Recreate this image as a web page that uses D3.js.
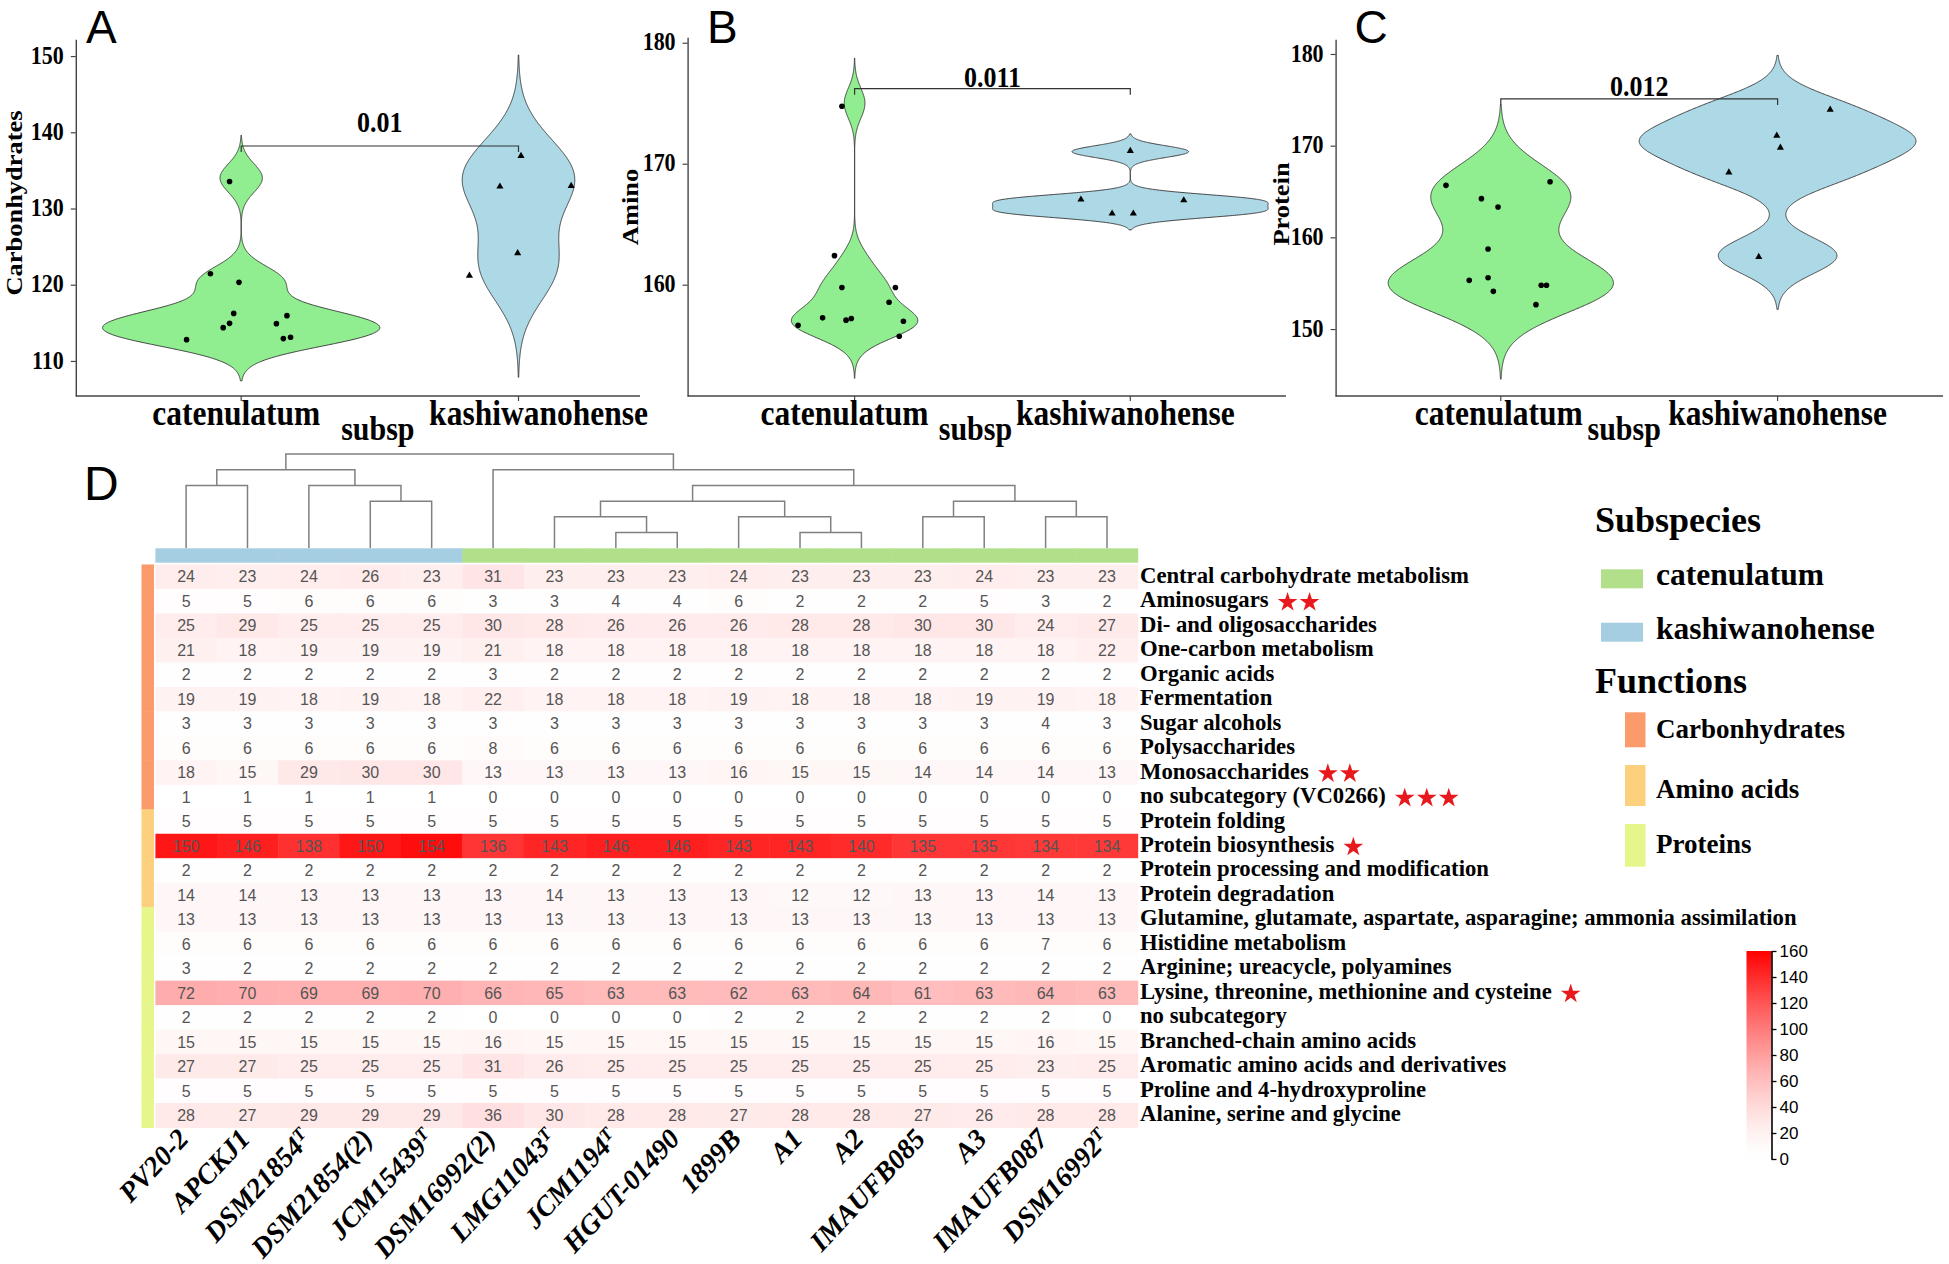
<!DOCTYPE html>
<html>
<head>
<meta charset="utf-8">
<script src="https://cdn.jsdelivr.net/npm/d3@7"></script>
<style>
  body { margin: 0; background: #fff; }
  svg { display: block; }
</style>
</head>
<body>
<script>
// ---------------- data ----------------
const groups = ["catenulatum", "kashiwanohense"];

// per-strain totals shown as violins (A: carbohydrates, B: amino, C: protein)
const carbCat = [134, 121, 120, 116, 116, 115, 115, 114, 113, 113, 113];
const carbCatJx = [-0.042, -0.111, -0.008, -0.027, 0.165, -0.042, 0.127, -0.065, -0.197, 0.152, 0.178];
const carbCatJy = [-0.46, 0.44, 0.31, 0.24, -0.06, -0.07, -0.11, 0.37, -0.21, -0.07, 0.10];
const carbKas = [137, 133, 133, 124, 121];
const carbKasJx = [0.009, -0.067, 0.19, -0.003, -0.177];
const carbKasJy = [-0.1, -0.12, -0.03, 0.15, 0.2];

const aminoCat = [175, 162, 160, 160, 159, 157, 157, 157, 157, 157, 156];
const aminoCatJx = [-0.046, -0.073, -0.046, 0.148, 0.125, -0.116, -0.031, -0.012, -0.205, 0.177, 0.162];
const aminoCatJy = [-0.25, 0.4, -0.23, -0.23, -0.45, 0.26, 0.07, 0.2, -0.35, -0.02, -0.26];
const aminoKas = [171, 167, 167, 166, 166];
const aminoKasJx = [0, -0.179, 0.194, -0.066, 0.011];
const aminoKasJy = [0.06, 0.04, -0.02, -0.12, -0.12];

const protCat = [166, 166, 164, 163, 159, 156, 155, 155, 155, 154, 153];
const protCatJx = [-0.198, 0.178, -0.07, -0.01, -0.046, -0.046, -0.114, 0.146, 0.165, -0.027, 0.127];
const protCatJy = [-0.33, 0.07, 0.22, 0.31, -0.27, -0.4, 0.31, -0.23, -0.23, 0.11, -0.34];
const protKas = [174, 171, 170, 167, 158];
const protKasJx = [0.19, -0.003, 0.01, -0.176, -0.068];
const protKasJy = [-0.07, 0.09, -0.22, 0.09, -0.14];

const pValues = ["0.01", "0.011", "0.012"];
const bracketAt = [138.2, 176.2, 175.1];

// heatmap
const strains = ["PV20-2", "APCKJ1", "DSM21854T", "DSM21854(2)", "JCM15439T", "DSM16992(2)", "LMG11043T", "JCM1194T",
  "HGUT-01490", "1899B", "A1", "A2", "IMAUFB085", "A3", "IMAUFB087", "DSM16992T"];
const strainGroup = ["kashiwanohense", "kashiwanohense", "kashiwanohense", "kashiwanohense", "kashiwanohense",
  "catenulatum", "catenulatum", "catenulatum", "catenulatum", "catenulatum", "catenulatum", "catenulatum",
  "catenulatum", "catenulatum", "catenulatum", "catenulatum"];

const subcats = ["Central carbohydrate metabolism", "Aminosugars", "Di- and oligosaccharides", "One-carbon metabolism",
  "Organic acids", "Fermentation", "Sugar alcohols", "Polysaccharides", "Monosaccharides", "no subcategory (VC0266)",
  "Protein folding", "Protein biosynthesis", "Protein processing and modification", "Protein degradation",
  "Glutamine, glutamate, aspartate, asparagine; ammonia assimilation", "Histidine metabolism",
  "Arginine; ureacycle, polyamines", "Lysine, threonine, methionine and cysteine", "no subcategory",
  "Branched-chain amino acids", "Aromatic amino acids and derivatives", "Proline and 4-hydroxyproline",
  "Alanine, serine and glycine"];
const subcatFunction = ["Carbonhydrates", "Carbonhydrates", "Carbonhydrates", "Carbonhydrates", "Carbonhydrates",
  "Carbonhydrates", "Carbonhydrates", "Carbonhydrates", "Carbonhydrates", "Carbonhydrates",
  "Amino acids", "Amino acids", "Amino acids", "Amino acids",
  "Proteins", "Proteins", "Proteins", "Proteins", "Proteins", "Proteins", "Proteins", "Proteins", "Proteins"];
const subcatStars = [0, 2, 0, 0, 0, 0, 0, 0, 2, 3, 0, 1, 0, 0, 0, 0, 0, 1, 0, 0, 0, 0, 0];

const heatValues = [
  [24, 23, 24, 26, 23, 31, 23, 23, 23, 24, 23, 23, 23, 24, 23, 23],
  [5, 5, 6, 6, 6, 3, 3, 4, 4, 6, 2, 2, 2, 5, 3, 2],
  [25, 29, 25, 25, 25, 30, 28, 26, 26, 26, 28, 28, 30, 30, 24, 27],
  [21, 18, 19, 19, 19, 21, 18, 18, 18, 18, 18, 18, 18, 18, 18, 22],
  [2, 2, 2, 2, 2, 3, 2, 2, 2, 2, 2, 2, 2, 2, 2, 2],
  [19, 19, 18, 19, 18, 22, 18, 18, 18, 19, 18, 18, 18, 19, 19, 18],
  [3, 3, 3, 3, 3, 3, 3, 3, 3, 3, 3, 3, 3, 3, 4, 3],
  [6, 6, 6, 6, 6, 8, 6, 6, 6, 6, 6, 6, 6, 6, 6, 6],
  [18, 15, 29, 30, 30, 13, 13, 13, 13, 16, 15, 15, 14, 14, 14, 13],
  [1, 1, 1, 1, 1, 0, 0, 0, 0, 0, 0, 0, 0, 0, 0, 0],
  [5, 5, 5, 5, 5, 5, 5, 5, 5, 5, 5, 5, 5, 5, 5, 5],
  [150, 146, 138, 150, 154, 136, 143, 146, 146, 143, 143, 140, 135, 135, 134, 134],
  [2, 2, 2, 2, 2, 2, 2, 2, 2, 2, 2, 2, 2, 2, 2, 2],
  [14, 14, 13, 13, 13, 13, 14, 13, 13, 13, 12, 12, 13, 13, 14, 13],
  [13, 13, 13, 13, 13, 13, 13, 13, 13, 13, 13, 13, 13, 13, 13, 13],
  [6, 6, 6, 6, 6, 6, 6, 6, 6, 6, 6, 6, 6, 6, 7, 6],
  [3, 2, 2, 2, 2, 2, 2, 2, 2, 2, 2, 2, 2, 2, 2, 2],
  [72, 70, 69, 69, 70, 66, 65, 63, 63, 62, 63, 64, 61, 63, 64, 63],
  [2, 2, 2, 2, 2, 0, 0, 0, 0, 2, 2, 2, 2, 2, 2, 0],
  [15, 15, 15, 15, 15, 16, 15, 15, 15, 15, 15, 15, 15, 15, 16, 15],
  [27, 27, 25, 25, 25, 31, 26, 25, 25, 25, 25, 25, 25, 25, 23, 25],
  [5, 5, 5, 5, 5, 5, 5, 5, 5, 5, 5, 5, 5, 5, 5, 5],
  [28, 27, 29, 29, 29, 36, 30, 28, 28, 27, 28, 28, 27, 26, 28, 28]
];

// column clustering: [height, left, right], leaves are column indices
const dendrogram = [6, [5, [4, 0, 1], [4, 2, [3, 3, 4]]],
  [5, 5, [4, [3, [2, 6, [1, 7, 8]], [2, 9, [1, 10, 11]]], [3, [2, 12, 13], [2, 14, 15]]]]];

const colorTicks = [0, 20, 40, 60, 80, 100, 120, 140, 160];

// ---------------- styles ----------------
const violinFill = { catenulatum: "#90EE90", kashiwanohense: "#ADD8E6" };
const subspColor = { catenulatum: "#B2DF8A", kashiwanohense: "#A6CEE3" };
const funcColor = { "Carbonhydrates": "#FB9A6B", "Amino acids": "#FDD07E", "Proteins": "#E6F68A" };
const heatColor = v => d3.interpolateRgb("#ffffff", "#ff0000")(Math.pow(v / 160, 1.4));
const SERIF = "'Liberation Serif', 'Times New Roman', serif";
const SANS = "'Liberation Sans', Arial, sans-serif";

const svg = d3.select("body").append("svg")
  .attr("width", 1949)
  .attr("height", 1264);
svg.append("rect").attr("width", 1949).attr("height", 1264).attr("fill", "#fff");

// stretched serif text helper
function sText(g, x, y, txt, size, anchor, sy) {
  return g.append("text")
    .attr("transform", `translate(${x},${y}) scale(1,${sy || 1})`)
    .attr("text-anchor", anchor || "start")
    .style("font-family", SERIF).style("font-weight", "bold")
    .style("font-size", size + "px")
    .text(txt);
}

// ---------------- violin panels ----------------
function bwNrd0(x) {
  const s = x.slice().sort(d3.ascending);
  const iqr = d3.quantileSorted(s, 0.75) - d3.quantileSorted(s, 0.25);
  const lo = Math.min(d3.deviation(x), iqr / 1.34);
  return 0.9 * lo * Math.pow(x.length, -0.2);
}
function kde(x) {
  const bw = bwNrd0(x);
  const lo = d3.min(x) - 3 * bw, hi = d3.max(x) + 3 * bw;
  return d3.range(512).map(i => {
    const v = lo + (hi - lo) * i / 511;
    const d = d3.sum(x, xi => Math.exp(-0.5 * ((v - xi) / bw) ** 2)) / (x.length * bw * Math.sqrt(2 * Math.PI));
    return { v, d };
  });
}

const panels = [
  { letter: "A", axisX: 75.8, right: 640, top: 39.3, bottom: 396, cx: [241.2, 518.5], dom: [105.4, 152.2],
    ticks: [110, 120, 130, 140, 150], title: "Carbonhydrates", titleX: 22, titleY: 203, letterX: 86,
    labDx: [-5, 20], subspDx: -2, pLift: 14,
    data: [[carbCat, carbCatJx, carbCatJy], [carbKas, carbKasJx, carbKasJy]] },
  { letter: "B", axisX: 687.6, right: 1286, top: 37.3, bottom: 396, cx: [854.6, 1130.3], dom: [150.8, 180.45],
    ticks: [160, 170, 180], title: "Amino", titleX: 638, titleY: 207, letterX: 707,
    labDx: [-10, -5], subspDx: -17, pLift: 2,
    data: [[aminoCat, aminoCatJx, aminoCatJy], [aminoKas, aminoKasJx, aminoKasJy]] },
  { letter: "C", axisX: 1335.6, right: 1943, top: 39.3, bottom: 396, cx: [1500.8, 1777.6], dom: [142.7, 181.6],
    ticks: [150, 160, 170, 180], title: "Protein", titleX: 1289, titleY: 204, letterX: 1354.5,
    labDx: [-2, 0], subspDx: -15, pLift: 2.6,
    data: [[protCat, protCatJx, protCatJy], [protKas, protKasJx, protKasJy]] }
];

panels.forEach((p, pi) => {
  const g = svg.append("g");
  const y = d3.scaleLinear().domain(p.dom).range([p.bottom, p.top]);
  const x = d3.scalePoint().domain(groups).range(p.cx);
  const step = p.cx[1] - p.cx[0];

  const dens = p.data.map(d => kde(d[0]));
  const maxD = d3.max(dens, ds => d3.max(ds, e => e.d));

  groups.forEach((grp, gi) => {
    const xc = x(grp);
    const area = d3.area()
      .y(e => y(e.v))
      .x0(e => xc - e.d / maxD * step / 2)
      .x1(e => xc + e.d / maxD * step / 2);
    g.append("path").datum(dens[gi])
      .attr("d", area)
      .attr("fill", violinFill[grp])
      .attr("stroke", "#333")
      .attr("stroke-width", 0.9);
  });

  // significance bracket
  const by = y(bracketAt[pi]);
  const tip = 6;
  g.append("path")
    .attr("d", `M${x(groups[0])},${by + tip}V${by}H${x(groups[1])}V${by + tip}`)
    .attr("fill", "none").attr("stroke", "#333").attr("stroke-width", 1.2);
  sText(g, (x(groups[0]) + x(groups[1])) / 2, by - p.pLift, pValues[pi], 26, "middle", 1.15);

  // jittered points
  groups.forEach((grp, gi) => {
    const [vals, jx, jy] = p.data[gi];
    const pts = vals.map((v, i) => ({ px: x(grp) + jx[i] * step, py: y(v + jy[i]) }));
    if (gi === 0) {
      g.selectAll(null).data(pts).enter().append("circle")
        .attr("cx", d => d.px).attr("cy", d => d.py).attr("r", 2.8).attr("fill", "#000");
    } else {
      g.selectAll(null).data(pts).enter().append("path")
        .attr("d", d3.symbol(d3.symbolTriangle, 22))
        .attr("transform", d => `translate(${d.px},${d.py})`)
        .attr("fill", "#000");
    }
  });

  // axes
  const ya = g.append("g").attr("transform", `translate(${p.axisX},0)`)
    .call(d3.axisLeft(y).tickValues(p.ticks).tickSize(5).tickSizeOuter(0).tickPadding(7));
  ya.select(".domain").attr("stroke", "#444").attr("stroke-width", 1.4);
  ya.selectAll(".tick line").attr("stroke", "#444").attr("stroke-width", 1.2);
  ya.selectAll(".tick text")
    .attr("transform", "scale(1,1.15)").attr("dy", "0.28em")
    .style("font-family", SERIF).style("font-weight", "bold").style("font-size", "22px").attr("fill", "#000");

  g.append("line").attr("x1", p.axisX).attr("x2", p.right).attr("y1", p.bottom).attr("y2", p.bottom)
    .attr("stroke", "#444").attr("stroke-width", 1.4);
  groups.forEach((grp, gi) => {
    g.append("line").attr("x1", x(grp)).attr("x2", x(grp)).attr("y1", p.bottom).attr("y2", p.bottom + 5)
      .attr("stroke", "#444").attr("stroke-width", 1.2);
    sText(g, x(grp) + p.labDx[gi], 425, grp, 31.5, "middle", 1.15);
  });
  sText(g, (p.cx[0] + p.cx[1]) / 2 + p.subspDx, 440, "subsp", 30, "middle", 1.15);

  // y title
  g.append("text")
    .attr("transform", `translate(${p.titleX},${p.titleY}) scale(1,1.15) rotate(-90)`)
    .attr("text-anchor", "middle")
    .style("font-family", SERIF).style("font-weight", "bold").style("font-size", "23px")
    .text(p.title);

  // panel letter
  svg.append("text").attr("x", p.letterX).attr("y", 43)
    .style("font-family", SANS).style("font-size", "46px").text(p.letter);
});

// ---------------- heatmap D ----------------
svg.append("text").attr("x", 84).attr("y", 500)
  .style("font-family", SANS).style("font-size", "48px").text("D");

const hm = svg.append("g");
const colX = d3.scaleBand().domain(d3.range(strains.length)).range([155.4, 1137.7]);
const rowY = d3.scaleBand().domain(d3.range(subcats.length)).range([564.5, 1127.5]);
const colC = i => colX(i) + colX.bandwidth() / 2;
const rowC = j => rowY(j) + rowY.bandwidth() / 2;

// dendrogram
const hY = d3.scaleLinear().domain([0, 6]).range([548.3, 454]);
const dendro = hm.append("g");
function drawNode(n) {
  if (typeof n === "number") return { x: colC(n), h: 0 };
  const l = drawNode(n[1]), r = drawNode(n[2]);
  dendro.append("path")
    .attr("d", `M${l.x},${hY(l.h)}V${hY(n[0])}H${r.x}V${hY(r.h)}`)
    .attr("fill", "none").attr("stroke", "#808080").attr("stroke-width", 1.5);
  return { x: (l.x + r.x) / 2, h: n[0] };
}
drawNode(dendrogram);

// subspecies annotation
hm.selectAll(null).data(strains).enter().append("rect")
  .attr("x", (d, i) => colX(i)).attr("width", colX.bandwidth() + 0.5)
  .attr("y", 548.3).attr("height", 14.4)
  .attr("fill", (d, i) => subspColor[strainGroup[i]]);

// function annotation
hm.selectAll(null).data(subcats).enter().append("rect")
  .attr("x", 141.5).attr("width", 12.5)
  .attr("y", (d, j) => rowY(j)).attr("height", rowY.bandwidth() + 0.5)
  .attr("fill", (d, j) => funcColor[subcatFunction[j]]);

// cells
const cells = [];
heatValues.forEach((row, j) => row.forEach((v, i) => cells.push({ i, j, v })));
hm.selectAll(null).data(cells).enter().append("rect")
  .attr("x", d => colX(d.i)).attr("y", d => rowY(d.j))
  .attr("width", colX.bandwidth() + 0.5).attr("height", rowY.bandwidth() + 0.5)
  .attr("fill", d => heatColor(d.v));
hm.selectAll(null).data(cells).enter().append("text")
  .attr("x", d => colC(d.i)).attr("y", d => rowC(d.j)).attr("dy", "0.36em")
  .attr("text-anchor", "middle")
  .style("font-family", SANS).style("font-size", "16px").attr("fill", "#555")
  .text(d => d.v);

// row labels + significance stars
subcats.forEach((lab, j) => {
  const t = sText(hm, 1140, rowC(j) + 6, lab, 22.7, "start", 1.06);
  const w = t.node().getComputedTextLength();
  for (let k = 0; k < subcatStars[j]; k++) {
    hm.append("path")
      .attr("d", d3.symbol(d3.symbolStar, 120))
      .attr("transform", `translate(${1140 + w + 19 + k * 22},${rowC(j) + 1})`)
      .attr("fill", "#E8191C");
  }
});

// column labels
strains.forEach((s, i) => {
  const t = hm.append("text")
    .attr("transform", `translate(${colC(i) + 4},1140) rotate(-47)`)
    .attr("text-anchor", "end")
    .style("font-family", SERIF).style("font-weight", "bold").style("font-style", "italic")
    .style("font-size", "28px");
  if (/\dT$/.test(s)) {
    t.append("tspan").text(s.slice(0, -1));
    t.append("tspan").attr("dy", "-0.45em").style("font-size", "18px").text("T");
  } else {
    t.text(s);
  }
});

// ---------------- legends ----------------
const lg = svg.append("g");
sText(lg, 1595, 531.7, "Subspecies", 36);
const subspLegY = [569.3, 622.7];
groups.forEach((grp, k) => {
  lg.append("rect").attr("x", 1601).attr("y", subspLegY[k]).attr("width", 42).attr("height", 19)
    .attr("fill", subspColor[grp]);
  sText(lg, 1656, subspLegY[k] + 16, grp, 31.5);
});
sText(lg, 1595, 693.3, "Functions", 36);
const funcNames = ["Carbonhydrates", "Amino acids", "Proteins"];
const funcLegY = [712.3, 765, 824];
const funcLegH = [35, 41, 42.7];
const funcLabY = [738.3, 798.3, 853.3];
funcNames.forEach((f, k) => {
  lg.append("rect").attr("x", 1625).attr("y", funcLegY[k]).attr("width", 20.5).attr("height", funcLegH[k])
    .attr("fill", funcColor[f]);
  sText(lg, 1656, funcLabY[k], f, 27);
});

// colour bar
const cb = svg.append("g");
const cbScale = d3.scaleLinear().domain([0, 160]).range([1159, 951]);
const grad = svg.append("defs").append("linearGradient")
  .attr("id", "cbgrad").attr("x1", 0).attr("y1", 1).attr("x2", 0).attr("y2", 0);
d3.range(0, 161, 10).forEach(v => {
  grad.append("stop").attr("offset", v / 160).attr("stop-color", heatColor(v));
});
cb.append("rect").attr("x", 1746.5).attr("y", 951).attr("width", 25).attr("height", 208)
  .attr("fill", "url(#cbgrad)");
const cbAxis = cb.append("g").attr("transform", "translate(1771.5,0)")
  .call(d3.axisRight(cbScale).tickValues(colorTicks).tickSize(5).tickSizeOuter(0).tickPadding(3));
cbAxis.select(".domain").attr("stroke", "#000").attr("stroke-width", 1.6);
cbAxis.selectAll(".tick line").attr("stroke", "#000").attr("stroke-width", 1.3);
cbAxis.selectAll(".tick text").style("font-family", SANS).style("font-size", "17px").attr("fill", "#000");
</script>
</body>
</html>
